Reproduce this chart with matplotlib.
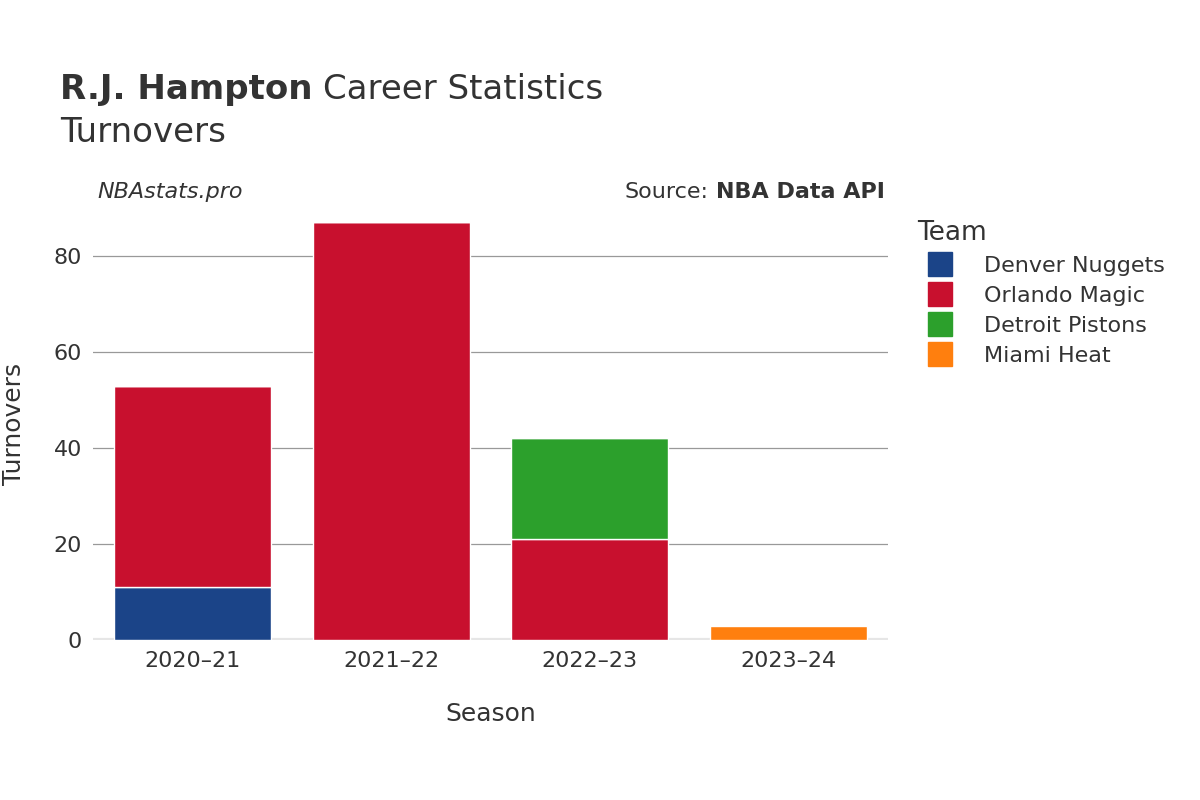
import matplotlib
matplotlib.use("Agg")
import matplotlib.pyplot as plt
from matplotlib.lines import Line2D
import numpy as np

seasons = ["2020–21", "2021–22", "2022–23", "2023–24"]
teams = ["Denver Nuggets", "Orlando Magic", "Detroit Pistons", "Miami Heat"]
colors = ["#1b4488", "#c8102e", "#2ca02c", "#ff7f0e"]
denver = [11, 0, 0, 0]
orlando = [42, 87, 21, 0]
detroit = [0, 0, 21, 0]
miami = [0, 0, 0, 3]
series = [denver, orlando, detroit, miami]

TEXT = "#333333"

fig = plt.figure(figsize=(12, 8), dpi=100)
ax = fig.add_axes([0.0775, 0.2, 0.6625, 0.54])

x = np.arange(len(seasons))
bottom = np.zeros(len(seasons))
for vals, c in zip(series, colors):
    v = np.array(vals, dtype=float)
    ax.bar(x, v, bottom=bottom, width=0.79, color=c, edgecolor="white",
           linewidth=1, zorder=3)
    bottom += v

ax.set_xlim(-0.5, 3.5)
ax.set_ylim(0, 90)
ax.set_yticks([0, 20, 40, 60, 80])
ax.set_xticks(x)
ax.set_xticklabels(seasons)
ax.tick_params(length=0, labelsize=16, colors=TEXT, pad=8)
ax.grid(axis="y", color="#999999", lw=0.9, zorder=0)
for s in ax.spines.values():
    s.set_visible(False)
ax.axhline(0, color="#e6e6e6", lw=3, zorder=2)
ax.set_xlabel("Season", fontsize=18, color=TEXT, labelpad=22)
ax.set_ylabel("Turnovers", fontsize=18, color=TEXT, labelpad=20)

# title: bold name followed by regular text
t1 = fig.text(0.05, 0.888, "R.J. Hampton", fontsize=24.5, fontweight="bold",
              color=TEXT, va="center")
fig.canvas.draw()
bb = t1.get_window_extent().transformed(fig.transFigure.inverted())
fig.text(bb.x1 + 0.009, 0.888, "Career Statistics", fontsize=24.5, color=TEXT,
         va="center")
fig.text(0.05, 0.835, "Turnovers", fontsize=24.5, color=TEXT, va="center")
fig.text(0.081, 0.76, "NBAstats.pro", fontsize=16, style="italic",
         color=TEXT, va="center")
src = fig.text(0.737, 0.76, "NBA Data API", fontsize=16, fontweight="bold",
               color=TEXT, va="center", ha="right")
fig.canvas.draw()
sb = src.get_window_extent().transformed(fig.transFigure.inverted())
fig.text(sb.x0 - 0.006, 0.76, "Source:", fontsize=16, color=TEXT,
         va="center", ha="right")

handles = [Line2D([], [], marker="s", ls="", markersize=17, color=c) for c in colors]
leg = fig.legend(handles, teams, loc="upper left", bbox_to_anchor=(0.748, 0.75),
                 frameon=False, fontsize=16, title="Team", title_fontsize=19,
                 labelcolor=TEXT, handletextpad=1.0, labelspacing=0.45)
leg.get_title().set_color(TEXT)
leg._legend_box.align = "left"

fig.savefig("out.png", dpi=100, facecolor="white")
